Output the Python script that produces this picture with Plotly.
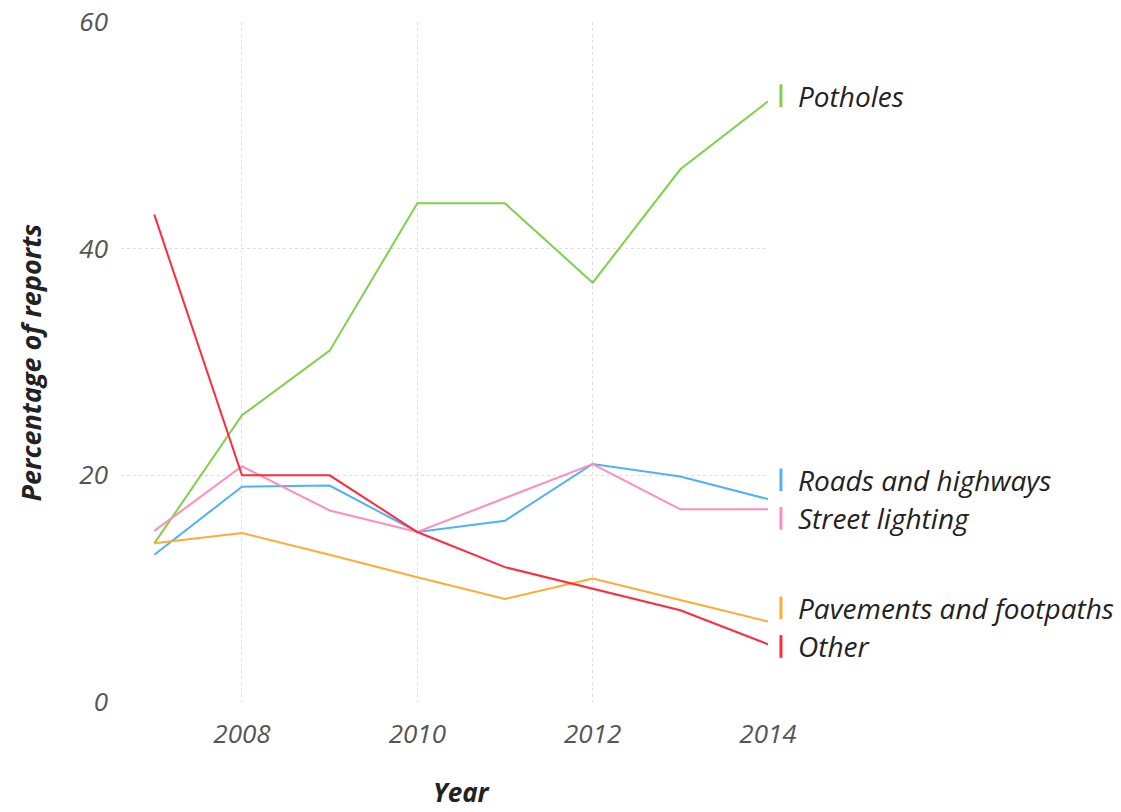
import plotly.graph_objects as go

# Share of reports by category, 2007-2014
years = [2007, 2008, 2009, 2010, 2011, 2012, 2013, 2014]
potholes = [14, 25.3, 31, 44, 44, 37, 47, 53]
roads = [13, 19, 19.1, 15, 16, 21, 19.9, 17.9]
street_lighting = [15.1, 20.8, 16.9, 15, 18, 21, 17, 17]
pavements = [14, 14.9, 13, 11, 9.1, 10.9, 9, 7.1]
other = [43, 20, 20, 15, 11.9, 10, 8.1, 5.1]

series_names = ["Potholes", "Roads and highways", "Street lighting",
                "Pavements and footpaths", "Other"]
series_values = [potholes, roads, street_lighting, pavements, other]
series_colors = ["#80d04a", "#4fb2f6", "#ff8dbd", "#ffab35", "#ff2a3c"]
# vertical placement of the end labels (data units), spread apart to avoid overlap
label_y = [53.5, 19.6, 16.2, 8.3, 4.9]

FONT = "Open Sans"

fig = go.Figure()
for name, vals, col in zip(series_names, series_values, series_colors):
    fig.add_trace(go.Scatter(x=years, y=vals, mode="lines", name=name,
                             line=dict(color=col, width=2), showlegend=False))

for name, col, ly in zip(series_names, series_colors, label_y):
    fig.add_shape(type="line", xref="paper", yref="y",
                  x0=1.02, x1=1.02, y0=ly - 1.0, y1=ly + 1.0,
                  line=dict(color=col, width=3))
    fig.add_annotation(xref="paper", yref="y", x=1.043, y=ly, text=name,
                       showarrow=False, xanchor="left", yanchor="middle",
                       font=dict(family=FONT, size=28, color="#222222",
                                 style="italic"))

# axis titles
fig.add_annotation(xref="paper", yref="paper", x=-0.14, y=0.5,
                   text="Percentage of reports", textangle=-90, showarrow=False,
                   xanchor="center", yanchor="middle",
                   font=dict(family=FONT, size=27, color="#222222",
                             style="italic", weight="bold"))
fig.add_annotation(xref="paper", yref="paper", x=0.527, y=-0.132,
                   text="Year", showarrow=False, xanchor="center", yanchor="middle",
                   font=dict(family=FONT, size=26, color="#222222",
                             style="italic", weight="bold"))

grid = dict(showgrid=True, gridcolor="#dedede", griddash="dot", gridwidth=1,
            zeroline=False, showline=False, ticks="", automargin=False)
tickfont = dict(family=FONT, size=26, color="#555555", style="italic")

fig.update_layout(
    width=1121, height=812,
    margin=dict(l=121, r=353, t=22, b=110, autoexpand=False),
    paper_bgcolor="white", plot_bgcolor="white",
    xaxis=dict(range=[2006.62, 2014], tickvals=[2008, 2010, 2012, 2014],
               tickfont=tickfont, ticklabelstandoff=14, **grid),
    yaxis=dict(range=[0, 60], tickvals=[0, 20, 40, 60], tickfont=tickfont,
               ticklabelstandoff=12, **grid),
)

fig.write_html("out.html")
